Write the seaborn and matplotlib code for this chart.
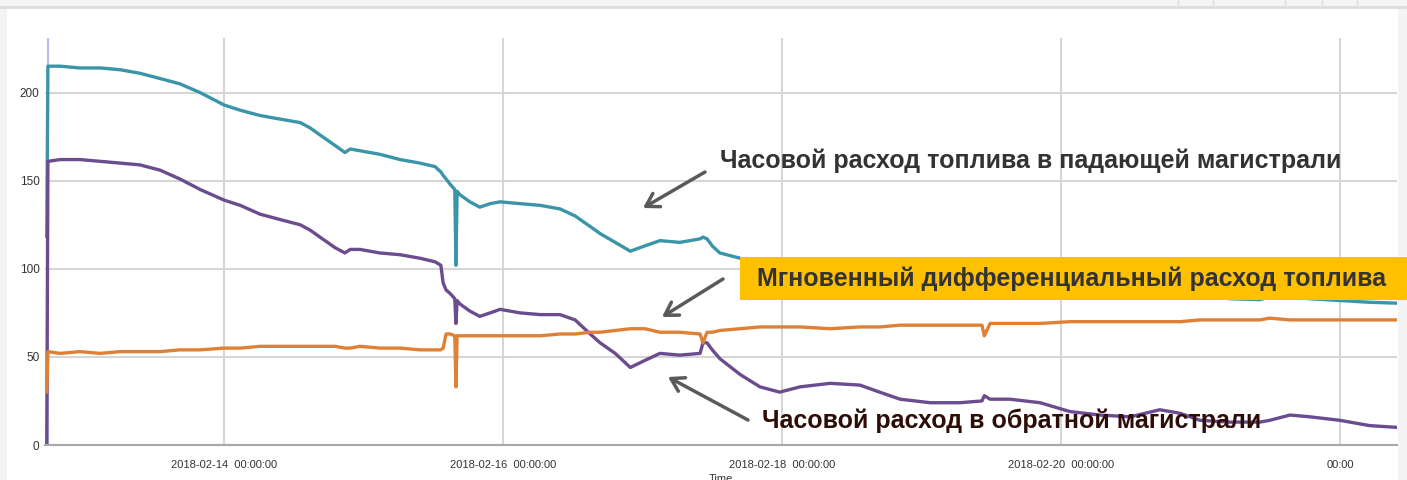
#fuel flow screenshot recreation: supply / return hourly flow and differential flow

import pandas as pd
import seaborn as sns
import numpy as np
import matplotlib.pyplot as plt
from matplotlib.patches import Rectangle
from matplotlib.lines import Line2D

#hours since the first sample (2018-02-12 17:30)
start = "2018-02-12 17:30"
hours = [0.0, 0.2, 2.3, 5.7, 9.2, 12.6, 16.0, 19.5, 22.9, 26.4,
         30.5, 33.3, 36.7, 40.1, 43.6, 45.3, 47.0, 49.6, 51.3, 52.2,
         53.9, 57.3, 60.8, 64.2, 66.8, 67.8, 68.2, 68.7, 69.4, 70.2,
         70.4, 70.6, 71.1, 72.8, 74.5, 76.3, 78.0, 81.4, 84.9, 88.3,
         90.9, 93.5, 95.2, 97.8, 100.4, 102.9, 105.5, 108.9, 112.4, 112.9,
         113.6, 114.5, 115.8, 119.3, 122.7, 126.1, 129.6, 134.8, 139.9, 143.3,
         146.8, 152.0, 157.1, 160.9, 161.3, 162.3, 165.7, 170.9, 176.0, 181.2,
         186.4, 191.5, 195.0, 198.4, 203.6, 208.7, 210.4, 213.9, 217.3, 222.5,
         227.6, 232.3]

#hourly flow, supply line (teal)
supply = [118, 215, 215, 214, 214, 213, 211, 208, 205, 200,
          193, 190, 187, 185, 183, 180, 176, 170, 166, 168,
          167, 165, 162, 160, 158, 155, 153, 151, 148, 145,
          102, 144, 142, 138, 135, 137, 138, 137, 136, 134,
          130, 124, 120, 115, 110, 113, 116, 115, 117, 118,
          117, 113, 109, 106, 102, 98, 97, 96, 95, 94,
          93, 92, 91, 90, 90, 90, 89, 88, 87, 87,
          86, 86, 86, 85, 83, 82.5, 84, 84, 83, 82,
          81, 80.5]

#hourly flow, return line (purple)
return_flow = [0, 161, 162, 162, 161, 160, 159, 156, 151, 145,
               139, 136, 131, 128, 125, 122, 118, 112, 109, 111,
               111, 109, 108, 106, 104, 102, 92, 88, 86, 83,
               69, 82, 80, 76, 73, 75, 77, 75, 74, 74,
               71, 63, 58, 52, 44, 48, 52, 51, 52, 58,
               58, 54, 49, 40, 33, 30, 33, 35, 34, 30,
               26, 24, 24, 25, 28, 26, 26, 24, 19, 17,
               16, 20, 18, 14, 13, 13, 14, 17, 16, 14,
               11, 10]

#instant differential flow (orange)
diff_flow = [30, 53, 52, 53, 52, 53, 53, 53, 54, 54,
             55, 55, 56, 56, 56, 56, 56, 56, 55, 55,
             56, 55, 55, 54, 54, 54, 55, 63, 63, 62,
             33, 62, 62, 62, 62, 62, 62, 62, 62, 63,
             63, 64, 64, 65, 66, 66, 64, 64, 63, 58,
             64, 64, 65, 66, 67, 67, 67, 66, 67, 67,
             68, 68, 68, 68, 62, 69, 69, 69, 70, 70,
             70, 70, 70, 71, 71, 71, 72, 71, 71, 71,
             71, 71]

tick_dates = ["2018-02-14", "2018-02-16", "2018-02-18", "2018-02-20", "2018-02-22"]
tick_labels = ["2018-02-14  00:00:00", "2018-02-16  00:00:00", "2018-02-18  00:00:00",
               "2018-02-20  00:00:00", "00:00"]
y_ticks = [0, 50, 100, 150, 200]

label_supply = "Часовой расход топлива в падающей магистрали"
label_diff = "Мгновенный дифференциальный расход топлива"
label_return = "Часовой расход в обратной магистрали"

sns.set_style("white")
plt.rcParams['font.family'] = ['Liberation Sans', 'DejaVu Sans']

W, H = 1407, 480
times = pd.Timestamp(start) + pd.to_timedelta(hours, unit="h")
df = pd.DataFrame({"time": times, "supply": supply, "return": return_flow, "diff": diff_flow})
df_long = df.melt(id_vars="time", var_name="series", value_name="flow")

fig = plt.figure(figsize=(W / 100, H / 100), dpi=100, facecolor="#f4f4f4")
#white page panel behind the chart
fig.patches.append(Rectangle((7 / W, 0), (1398 - 7) / W, (H - 8) / H, transform=fig.transFigure,
                             facecolor="white", edgecolor="none", zorder=-2))
fig.lines.append(Line2D([0, 1], [1 - 7 / H, 1 - 7 / H], transform=fig.transFigure, color="#dcdcdc", lw=2))
for sx in [1178, 1213, 1285, 1322, 1357]:
	fig.lines.append(Line2D([sx / W, sx / W], [1, 1 - 6 / H], transform=fig.transFigure, color="#dddddd", lw=1))

ax = fig.add_axes([45 / W, 35 / H, (1397 - 45) / W, (445 - 38) / H])
ax.set_facecolor("white")

sns.lineplot(data=df_long, x="time", y="flow", hue="series", estimator=None, sort=False,
             palette={"supply": "#3a95a9", "return": "#6b4c8f", "diff": "#de8137"},
             linewidth=2.4, legend=False, ax=ax)

#cursor line at the start of the record
ax.axvline(pd.Timestamp(start) + pd.Timedelta(hours=0.3), color="#b9b9ff", lw=1.5, zorder=1)

ax.set_xlim(pd.Timestamp(start) - pd.Timedelta(hours=0.3), times[-1])
ax.set_ylim(0, 231)
ax.set_xticks(pd.to_datetime(tick_dates))
ax.set_xticklabels(tick_labels)
ax.set_yticks(y_ticks)
ax.set_yticklabels([str(v) for v in y_ticks])
ax.grid(True, color="#d6d6d6", lw=1.5)
ax.set_axisbelow(True)
for side in ["top", "right", "left"]:
	ax.spines[side].set_visible(False)
ax.spines["bottom"].set_color("#a8a8a8")
ax.spines["bottom"].set_linewidth(1.5)
ax.tick_params(axis="x", length=5, width=1.2, color="#a8a8a8", labelsize=8, labelcolor="#333333", pad=5.5)
ax.tick_params(axis="y", length=0, labelsize=8.5, labelcolor="#333333", pad=4)
ax.set_xlabel("Time", fontsize=8, color="#333333", labelpad=3)
ax.set_ylabel("")

#callouts
fig.patches.append(Rectangle((740 / W, 1 - 300 / H), (W - 740) / W, 43 / H, transform=fig.transFigure,
                             facecolor="#ffc000", edgecolor="none", zorder=2))
fig.text(720 / W, 1 - 161 / H, label_supply, fontsize=18, fontweight="bold", color="#333333",
         ha="left", va="center", zorder=3)
fig.text(757 / W, 1 - 279 / H, label_diff, fontsize=18, fontweight="bold", color="#333333",
         ha="left", va="center", zorder=3)
fig.text(762 / W, 1 - 421 / H, label_return, fontsize=18, fontweight="bold", color="#2e0d06",
         ha="left", va="center", zorder=3)

arrow_style = dict(arrowstyle="->,head_length=0.9,head_width=0.55", lw=2.5, color="#5a5a5a",
                   shrinkA=0, shrinkB=0)
for tail, tip in [((705, 172), (643, 208)), ((723, 279), (662, 317)), ((748, 420), (668, 377))]:
	ax.annotate("", xy=(tip[0], H - tip[1]), xytext=(tail[0], H - tail[1]),
	            xycoords="figure pixels", textcoords="figure pixels",
	            arrowprops=arrow_style, annotation_clip=False)

plt.savefig("out.png", dpi=100, facecolor=fig.get_facecolor())
